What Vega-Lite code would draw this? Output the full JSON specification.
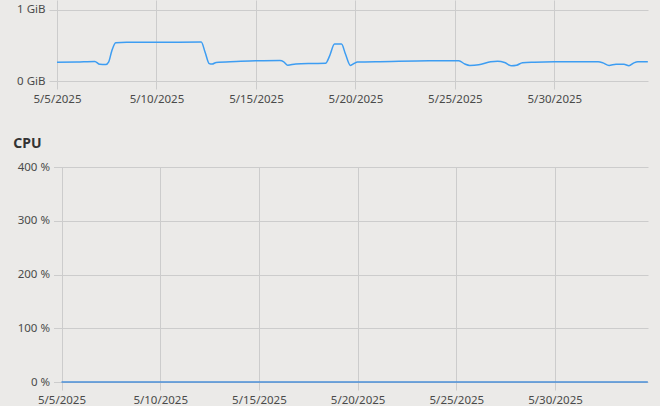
{
  "$schema": "https://vega.github.io/schema/vega-lite/v6.json",
  "background": "#ebeae8",
  "padding": {"left": 13, "top": 0, "right": 12, "bottom": 0},
  "config": {
    "view": {"stroke": null},
    "font": "Noto Sans",
    "axis": {
      "labelFont": "Noto Sans",
      "labelFontSize": 11.5,
      "labelColor": "#4a4a4a",
      "gridColor": "#cccccc",
      "tickColor": "#cccccc",
      "tickSize": 8,
      "labelPadding": 4,
      "labelFlush": false,
      "domain": false,
      "title": null
    },
    "concat": {"spacing": 32}
  },
  "datasets": {
    "mem": [
      {"t": "2025-05-05T00:00:00Z", "v": 0.263},
      {"t": "2025-05-06T00:00:00Z", "v": 0.268},
      {"t": "2025-05-06T21:36:00Z", "v": 0.275},
      {"t": "2025-05-07T03:36:00Z", "v": 0.235},
      {"t": "2025-05-07T10:48:00Z", "v": 0.232},
      {"t": "2025-05-07T14:24:00Z", "v": 0.27},
      {"t": "2025-05-07T18:00:00Z", "v": 0.42},
      {"t": "2025-05-07T22:48:00Z", "v": 0.54},
      {"t": "2025-05-08T12:00:00Z", "v": 0.545},
      {"t": "2025-05-10T00:00:00Z", "v": 0.545},
      {"t": "2025-05-12T06:00:00Z", "v": 0.548},
      {"t": "2025-05-12T10:48:00Z", "v": 0.40},
      {"t": "2025-05-12T15:36:00Z", "v": 0.245},
      {"t": "2025-05-12T19:12:00Z", "v": 0.238},
      {"t": "2025-05-13T00:00:00Z", "v": 0.262},
      {"t": "2025-05-14T00:00:00Z", "v": 0.275},
      {"t": "2025-05-15T00:00:00Z", "v": 0.285},
      {"t": "2025-05-16T04:48:00Z", "v": 0.287},
      {"t": "2025-05-16T09:36:00Z", "v": 0.27},
      {"t": "2025-05-16T14:24:00Z", "v": 0.222},
      {"t": "2025-05-17T00:00:00Z", "v": 0.24},
      {"t": "2025-05-17T19:12:00Z", "v": 0.247},
      {"t": "2025-05-18T12:00:00Z", "v": 0.25},
      {"t": "2025-05-18T16:48:00Z", "v": 0.35},
      {"t": "2025-05-18T22:48:00Z", "v": 0.52},
      {"t": "2025-05-19T07:12:00Z", "v": 0.52},
      {"t": "2025-05-19T12:00:00Z", "v": 0.38},
      {"t": "2025-05-19T18:00:00Z", "v": 0.22},
      {"t": "2025-05-19T22:48:00Z", "v": 0.25},
      {"t": "2025-05-20T02:24:00Z", "v": 0.268},
      {"t": "2025-05-21T00:00:00Z", "v": 0.27},
      {"t": "2025-05-23T16:48:00Z", "v": 0.285},
      {"t": "2025-05-25T04:48:00Z", "v": 0.285},
      {"t": "2025-05-25T12:00:00Z", "v": 0.24},
      {"t": "2025-05-25T18:00:00Z", "v": 0.22},
      {"t": "2025-05-26T04:48:00Z", "v": 0.228},
      {"t": "2025-05-26T19:12:00Z", "v": 0.27},
      {"t": "2025-05-27T03:36:00Z", "v": 0.277},
      {"t": "2025-05-27T12:00:00Z", "v": 0.26},
      {"t": "2025-05-27T20:24:00Z", "v": 0.215},
      {"t": "2025-05-28T02:24:00Z", "v": 0.222},
      {"t": "2025-05-28T09:36:00Z", "v": 0.258},
      {"t": "2025-05-29T00:00:00Z", "v": 0.265},
      {"t": "2025-05-30T00:00:00Z", "v": 0.27},
      {"t": "2025-06-01T04:48:00Z", "v": 0.27},
      {"t": "2025-06-01T10:48:00Z", "v": 0.255},
      {"t": "2025-06-01T18:00:00Z", "v": 0.22},
      {"t": "2025-06-02T02:24:00Z", "v": 0.235},
      {"t": "2025-06-02T12:00:00Z", "v": 0.235},
      {"t": "2025-06-02T18:00:00Z", "v": 0.215},
      {"t": "2025-06-03T00:00:00Z", "v": 0.255},
      {"t": "2025-06-03T04:48:00Z", "v": 0.27},
      {"t": "2025-06-03T16:48:00Z", "v": 0.27}
    ],
    "cpu": [
      {"t": "2025-05-05T00:00:00Z", "v": 0},
      {"t": "2025-05-10T00:00:00Z", "v": 0},
      {"t": "2025-05-15T00:00:00Z", "v": 0},
      {"t": "2025-05-20T00:00:00Z", "v": 0},
      {"t": "2025-05-25T00:00:00Z", "v": 0},
      {"t": "2025-05-30T00:00:00Z", "v": 0},
      {"t": "2025-06-03T16:48:00Z", "v": 0}
    ]
  },
  "vconcat": [
    {
      "width": 591,
      "height": 81,
      "data": {"name": "mem"},
      "mark": {"type": "line", "interpolate": "monotone", "color": "#3d9df2", "strokeWidth": 1.5},
      "encoding": {
        "x": {
          "field": "t", "type": "temporal",
          "scale": {"type": "utc", "domain": [{"year": 2025, "month": 5, "date": 5, "utc": true}, {"year": 2025, "month": 6, "date": 3, "hours": 17, "utc": true}], "nice": false},
          "axis": {
            "format": "%-m/%-d/%Y",
            "values": [
              {"year": 2025, "month": 5, "date": 5, "utc": true},
              {"year": 2025, "month": 5, "date": 10, "utc": true},
              {"year": 2025, "month": 5, "date": 15, "utc": true},
              {"year": 2025, "month": 5, "date": 20, "utc": true},
              {"year": 2025, "month": 5, "date": 25, "utc": true},
              {"year": 2025, "month": 5, "date": 30, "utc": true}
            ]
          }
        },
        "y": {
          "field": "v", "type": "quantitative",
          "scale": {"domain": [0, 1.1408], "nice": false, "zero": true},
          "axis": {"values": [0, 1], "labelExpr": "datum.value + ' GiB'"}
        }
      }
    },
    {
      "width": 591,
      "height": 215,
      "title": {"text": "CPU", "anchor": "start", "fontSize": 14, "fontWeight": "bold", "color": "#333333", "font": "Noto Sans", "baseline": "alphabetic", "offset": -1, "dx": -4},
      "data": {"name": "cpu"},
      "mark": {"type": "line", "color": "#4a8fd8", "strokeWidth": 1.5},
      "encoding": {
        "x": {
          "field": "t", "type": "temporal",
          "scale": {"type": "utc", "domain": [{"year": 2025, "month": 5, "date": 5, "utc": true}, {"year": 2025, "month": 6, "date": 3, "hours": 17, "utc": true}], "nice": false, "range": [4.5, 591]},
          "axis": {
            "format": "%-m/%-d/%Y",
            "values": [
              {"year": 2025, "month": 5, "date": 5, "utc": true},
              {"year": 2025, "month": 5, "date": 10, "utc": true},
              {"year": 2025, "month": 5, "date": 15, "utc": true},
              {"year": 2025, "month": 5, "date": 20, "utc": true},
              {"year": 2025, "month": 5, "date": 25, "utc": true},
              {"year": 2025, "month": 5, "date": 30, "utc": true}
            ]
          }
        },
        "y": {
          "field": "v", "type": "quantitative",
          "scale": {"domain": [0, 400], "nice": false},
          "axis": {"values": [0, 100, 200, 300, 400], "labelExpr": "datum.value + ' %'", "offset": -4.5}
        }
      }
    }
  ]
}
